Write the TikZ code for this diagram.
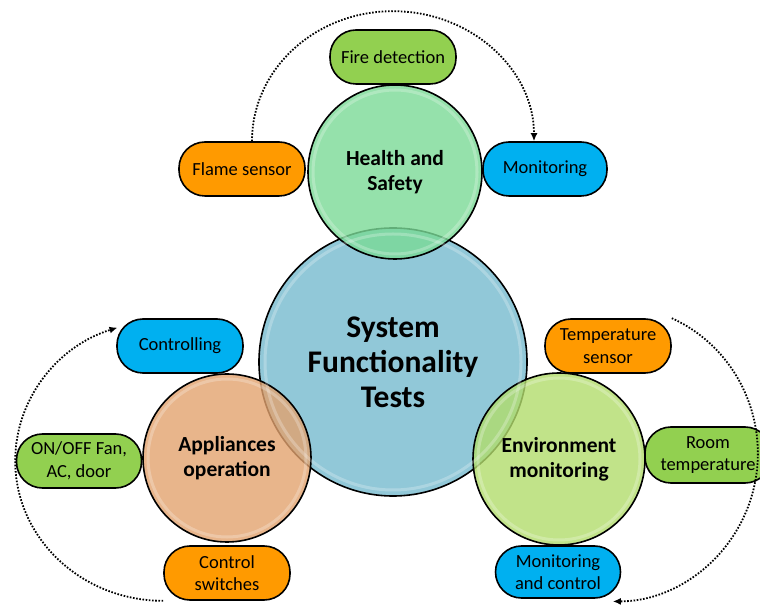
\documentclass[tikz,border=0pt]{standalone}
\usepackage{fontspec}
\setmainfont{Carlito}
\usetikzlibrary{arrows.meta}
\definecolor{hubblue}{RGB}{118,186,206}
\definecolor{healthgreen}{RGB}{122,218,150}
\definecolor{appltan}{RGB}{226,162,110}
\definecolor{envlime}{RGB}{178,220,108}
\definecolor{pillorange}{RGB}{255,154,0}
\definecolor{pillgreen}{RGB}{146,208,80}
\definecolor{pillblue}{RGB}{0,176,240}
\begin{document}
\begin{tikzpicture}
        [
        x = 1pt, y = 1pt,
        flow/.style = {line width = 1.8pt, dash pattern = on 1.6pt off 1.6pt, -{Latex[length = 8pt, width = 7pt]}},
        gloss/.style = {white, opacity = 0.25, line width = 3pt},
        ]
        \tikzstyle{big ball}=[circle,draw,line width=1.6pt,fill opacity=0.8,text opacity=1,inner sep=0,align=center,font=\bfseries\fontsize{31.5}{35}\selectfont]
        \tikzstyle{ball}=[big ball,font=\bfseries\fontsize{21.5}{25}\selectfont]
        \tikzstyle{pill}=[draw,line width=1.6pt,rounded corners=26pt,minimum width=126pt,minimum height=54pt,inner sep=2pt,align=center,font=\fontsize{18.5}{22.5}\selectfont]

        \useasboundingbox (0,0) rectangle (760,605);

        \node[big ball, fill=hubblue, minimum size=268pt] (sft) at (393,243) {System\\Functionality\\Tests};
        \node[ball, fill=healthgreen, minimum size=174pt] (hs) at (395,433) {Health and\\Safety};
        \node[ball, fill=appltan, minimum size=168pt] (ao) at (227,147) {Appliances\\operation};
        \node[ball, fill=envlime, minimum size=172pt] (em) at (559,146) {Environment\\monitoring};
        \draw[gloss] (sft.center) circle[radius=128pt];
        \draw[gloss] (hs.center) circle[radius=82pt];
        \draw[gloss] (ao.center) circle[radius=79pt];
        \draw[gloss] (em.center) circle[radius=81pt];

        \node[pill, fill=pillgreen] (fd) at (393,548) {Fire detection};
        \node[pill, fill=pillorange] (fs) at (242,436) {Flame sensor};
        \node[pill, fill=pillblue, minimum width=124pt] (mo) at (545,436) {Monitoring};

        \node[pill, fill=pillblue] (co) at (180,259) {Controlling};
        \node[pill, fill=pillgreen, minimum width=125pt] (of) at (79,144) {ON/OFF Fan,\\AC, door};
        \node[pill, fill=pillorange] (cs) at (227,32) {Control\\switches};

        \node[pill, fill=pillorange] (ts) at (608,259) {Temperature\\sensor};
        \node[pill, fill=pillgreen, minimum height=56pt] (rt) at (708,150) {Room\\temperature};
        \node[pill, fill=pillblue, minimum width=125pt, minimum height=52pt] (mc) at (558,33) {Monitoring\\and control};

        \draw[flow] ([xshift=10pt]fs.north) arc[start angle=180, end angle=0, x radius=141pt, y radius=130pt];
        \draw[flow] (cs.south west) arc[start angle=270, end angle=108, x radius=148pt, y radius=140pt];
        \draw[flow] (ts.north east) arc[start angle=66, end angle=-90, x radius=145pt, y radius=148pt];
\end{tikzpicture}
\end{document}
